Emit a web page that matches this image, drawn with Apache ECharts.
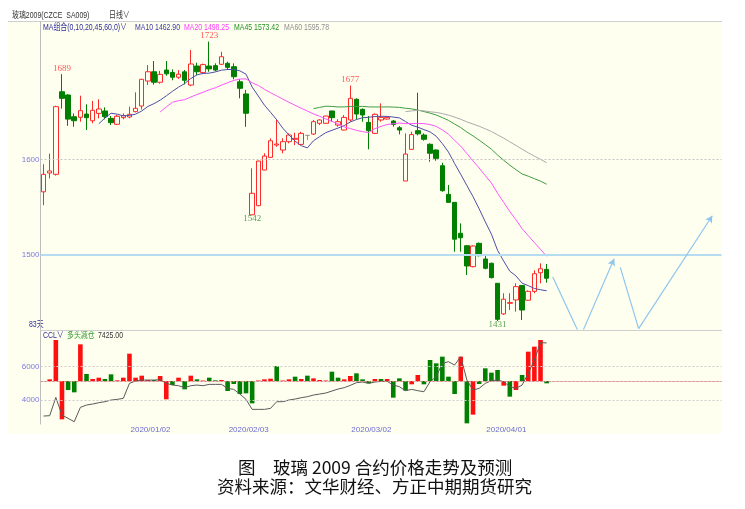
<!DOCTYPE html>
<html><head><meta charset="utf-8">
<script src="https://cdn.jsdelivr.net/npm/echarts@6/dist/echarts.min.js"></script>
<style>html,body{margin:0;padding:0;background:#fff}#c{width:745px;height:509px}</style>
</head><body><div id="c"></div>
<script>
const dates = [
'2019/12/06','2019/12/09','2019/12/10','2019/12/11','2019/12/12','2019/12/13','2019/12/16','2019/12/17','2019/12/18','2019/12/19','2019/12/20','2019/12/23','2019/12/24','2019/12/25','2019/12/26','2019/12/27','2019/12/30','2019/12/31',
'2020/01/02','2020/01/03','2020/01/06','2020/01/07','2020/01/08','2020/01/09','2020/01/10','2020/01/13','2020/01/14','2020/01/15','2020/01/16','2020/01/17','2020/01/20','2020/01/21','2020/01/22','2020/01/23',
'2020/02/03','2020/02/04','2020/02/05','2020/02/06','2020/02/07','2020/02/10','2020/02/11','2020/02/12','2020/02/13','2020/02/14','2020/02/17','2020/02/18','2020/02/19','2020/02/20','2020/02/21','2020/02/24','2020/02/25','2020/02/26','2020/02/27','2020/02/28',
'2020/03/02','2020/03/03','2020/03/04','2020/03/05','2020/03/06','2020/03/09','2020/03/10','2020/03/11','2020/03/12','2020/03/13','2020/03/16','2020/03/17','2020/03/18','2020/03/19','2020/03/20','2020/03/23','2020/03/24','2020/03/25','2020/03/26','2020/03/27','2020/03/30','2020/03/31',
'2020/04/01','2020/04/02','2020/04/03','2020/04/07','2020/04/08','2020/04/09','2020/04/10'];
const futureSlots = 28;

const opens  = [1566,1585.7,1584.3,1670.6,1667.2,1644.5,1643.9,1647.3,1640.3,1648,1650.5,1642.8,1636.6,1643.5,1644.2,1649.8,1655.7,1681.8,1691.5,1680.5,1693.3,1690.7,1685.8,1691.4,1677.6,1697.5,1690.6,1697.5,1697.9,1699.3,1700.3,1696.8,1681,1668.3,1542,1551.5,1588.8,1602,1614.9,1609.7,1618.4,1620.9,1615.6,1625,1626.4,1637.6,1637.6,1650.5,1635.8,1630.6,1641.1,1662.7,1652.2,1638.6,1627.1,1641.1,1642.1,1640,1633,1577.3,1610.4,1629.9,1625.4,1615.7,1609.7,1593.3,1563.4,1555,1522.7,1509.7,1487.8,1512.2,1495.8,1491.3,1470.4,1438.4,1449.5,1453,1468.2,1452.7,1462,1481.4,1485];
const closes = [1584.3,1587.8,1655,1663.7,1642,1640.3,1650.8,1643.5,1651.2,1652.6,1644.5,1638.3,1645,1645.6,1647,1653.3,1683.6,1691.5,1680.5,1688.8,1689.3,1685.8,1688.9,1682.6,1699.6,1691.5,1699,1694.5,1693.3,1707.2,1696.1,1686.3,1674.2,1648.1,1564.5,1598.2,1603.4,1619.4,1616,1618.4,1625.4,1621.9,1627.1,1625,1639.3,1641.1,1645.2,1643.5,1639.3,1643.8,1663.7,1647.3,1646.3,1629.9,1647,1643.8,1643.8,1636.5,1630.6,1605.5,1625.8,1626.6,1620.9,1606.3,1601,1567.2,1555,1516.5,1518,1488.5,1509.4,1499.3,1486.1,1476.3,1432.8,1453.8,1450.2,1466.9,1442.5,1462,1480.4,1485.6,1475.7];
const lows   = [1552,1580,1583,1653,1635,1634,1639.3,1630.6,1637.6,1642.8,1641.8,1635.8,1635.8,1641.8,1642.8,1649,1652,1677.6,1678,1679,1687.4,1682.6,1684,1678.4,1676.5,1688,1689,1691.5,1692,1698.6,1693.3,1683.6,1663.7,1634,1542,1551,1588.5,1601.5,1613,1606.3,1616.7,1614.9,1614.9,1620,1625.4,1635.8,1637,1639.3,1634.1,1630.3,1639.3,1641.8,1639.3,1610.4,1626.4,1639.3,1641.5,1634.1,1626.1,1577.3,1609.7,1625,1619.5,1597.5,1598.5,1566.1,1555,1503.4,1503.4,1479.1,1487,1498.5,1485,1475.5,1431,1437.3,1442.5,1440.8,1432,1452,1460,1470.4,1471];
const highs  = [1594.8,1605.9,1656,1689,1668,1648,1666.5,1657.5,1661,1662.7,1654.3,1645.2,1646.6,1648,1655,1670,1684,1698.5,1702.7,1692.5,1702.7,1694,1693.3,1693.3,1714.2,1701,1700,1723,1700.3,1712.4,1702,1700.3,1683.6,1672.5,1590.6,1598.5,1606.3,1621.9,1641.8,1621.9,1627.1,1627.8,1628.8,1625,1641.1,1641.8,1645.5,1650.8,1641.8,1646.3,1677,1663.7,1653.2,1645.2,1648,1658.5,1645,1641.1,1634.8,1627.1,1628.8,1669.6,1627.1,1616.7,1610.4,1596.4,1573.1,1555,1533.1,1510,1510,1513,1499.3,1492,1470.4,1460,1460,1470.4,1468.2,1463,1484,1491.3,1490.6];

const oiChange = ['-',100,2460,-2300,-540,-680,2200,420,120,200,120,400,40,200,1640,200,320,60,60,300,-1100,-240,200,-500,320,100,30,200,40,60,-600,-180,-780,-740,-1340,30,100,140,900,30,100,260,120,320,160,60,30,560,200,100,300,460,100,-140,120,120,120,-1000,160,-580,-200,360,-200,1260,1060,1460,260,-780,1460,-2540,-2020,-180,760,500,660,-280,-940,-540,360,1760,2060,2460,-140];
const openInterest = [3040,3060,4160,3100,2900,2700,3560,3700,3760,3840,3900,4000,4040,4100,5000,5140,5200,5200,5200,5220,5000,4900,4860,4740,4860,4900,4860,4940,4940,4940,4700,4640,4360,4040,3440,3440,3440,3500,3900,3900,4000,4060,4140,4200,4300,4360,4420,4540,4660,4740,4880,5040,5080,5000,5080,5120,5120,4900,4800,4560,4640,4560,4500,5100,5400,6200,6300,6100,6600,5200,4600,4700,5000,5160,5200,5100,4800,4700,4900,5600,6400,7440,7425];

const priceTicks = [1500, 1600];
const oiTicks = [4000, 6000];
const supportLevel = 1500;
const maPeriods = [10, 20, 45, 60];
const maColors = ['#4d4da8', '#ff55ff', '#3f9d3f', '#ababab'];
const peakIdx = [3, 27, 50];
const troughIdx = [34, 74];
const forecastLegs = [
  [[83, 1477], [87, 1422], false],
  [[88, 1422], [93, 1496], true],
  [[94, 1487], [97, 1423], false],
  [[97, 1423], [109, 1541], true]
];
const maLegend = ['MA10 1462.90', 'MA20 1498.25', 'MA45 1573.42', 'MA60 1595.78'];

const cats = dates.concat(Array.from({length: futureSlots}, (_, i) => 'F' + (i + 1)));
const candles = opens.map((o, i) => [o, closes[i], lows[i], highs[i]]);
function movingAvg(n) {
  return closes.map((c, i) => {
    if (i < n - 1) return '-';
    let s = 0; for (let j = i - n + 1; j <= i; j++) s += closes[j];
    return +(s / n).toFixed(2);
  });
}
const UP = '#ff2a2a', DOWN = '#007f00', BG = '#fffff0';
const CJK = '"Liberation Sans", "Noto Sans CJK SC", sans-serif';
const SX = 0.77;
function smallText(x, y, text, fill) {
  return {type: 'text', x: x, y: y, scaleX: SX, style: {text: text, font: '9px ' + CJK, fill: fill, verticalAlign: 'middle'}};
}

const chart = echarts.init(document.getElementById('c'), null, {renderer: 'canvas'});
const gridL = 40.5, slot = 6.135, gridW = slot * cats.length;
const gridR = 745 - gridL - gridW;

const option = {
  animation: false,
  backgroundColor: '#ffffff',
  graphic: [
    {type: 'rect', z: -10, shape: {x: 8, y: 8, width: 714, height: 426}, style: {fill: BG}},
    {type: 'rect', z: -9, shape: {x: 8, y: 8, width: 714, height: 14}, style: {fill: '#ffffff'}},
    {type: 'line', shape: {x1: 8, y1: 21.5, x2: 722, y2: 21.5}, style: {stroke: '#cfcfcf', lineWidth: 1}},
    smallText(12, 15.5, '玻璃2009(CZCE  SA009)', '#333333'),
    smallText(109, 15.5, '日线∨', '#333333'),
    smallText(43, 28, 'MA组合(0,10,20,45,60,0)∨', '#2b2b9c'),
    smallText(135, 28, maLegend[0], '#3b3ba6'),
    smallText(184, 28, maLegend[1], '#ff3cff'),
    smallText(234, 28, maLegend[2], '#239023'),
    smallText(284, 28, maLegend[3], '#8f8f8f'),
    smallText(29, 325, '83天', '#2b2b9c'),
    smallText(43, 335.5, 'CCL∨', '#2b2b9c'),
    smallText(67, 335.5, '多头减仓', '#2f9a2f'),
    smallText(98, 335.5, '7425.00', '#333333'),
    {type: 'text', left: 238, top: 459, style: {text: '图', font: '17.5px "Noto Sans CJK SC"', fill: '#111'}},
    {type: 'text', left: 273, top: 459, style: {text: '玻璃 2009 合约价格走势及预测', font: '17.5px "Noto Sans CJK SC"', fill: '#111'}},
    {type: 'text', left: 217, top: 478, style: {text: '资料来源：文华财经、方正中期期货研究', font: '17.5px "Noto Sans CJK SC"', fill: '#111'}}
  ],
  grid: [
    {left: gridL, right: gridR, top: 22, height: 308},
    {left: gridL, right: gridR, top: 330, height: 94}
  ],
  xAxis: [
    {type: 'category', gridIndex: 0, data: cats, boundaryGap: true,
     axisLine: {show: true, lineStyle: {color: '#cfcfcf'}}, axisTick: {show: false}, axisLabel: {show: false}, splitLine: {show: false}},
    {type: 'category', gridIndex: 1, data: cats, boundaryGap: true,
     axisLine: {show: true, lineStyle: {color: '#cfcfcf'}}, axisTick: {show: false}, splitLine: {show: false},
     axisLabel: {show: true, color: '#6a6ad0', fontSize: 8, margin: 2, padding: [0, 7, 0, 0],
       interval: (i) => i > 0 && i < dates.length && dates[i].slice(0, 7) !== dates[i - 1].slice(0, 7)}}
  ],
  yAxis: [
    {type: 'value', gridIndex: 0, min: 1421.6, max: 1743.5, position: 'left',
     axisLine: {show: true, lineStyle: {color: '#bdbdbd'}}, axisTick: {show: false}, splitLine: {show: false},
     axisLabel: {show: true, customValues: priceTicks, color: '#7a7ae0', fontSize: 8, margin: 1, formatter: v => String(v)}},
    {type: 'value', gridIndex: 1, min: 2562, max: 8202, position: 'left',
     axisLine: {show: true, lineStyle: {color: '#bdbdbd'}}, axisTick: {show: false}, splitLine: {show: false},
     axisLabel: {show: true, customValues: oiTicks, color: '#7a7ae0', fontSize: 8, margin: 1, formatter: v => String(v)}},
    {type: 'value', gridIndex: 1, min: -2580, max: 3060, show: false, splitLine: {show: false}}
  ],
  series: [
    {type: 'candlestick', name: 'K', xAxisIndex: 0, yAxisIndex: 0, data: candles, barWidth: 5,
     itemStyle: {color: BG, color0: DOWN, borderColor: UP, borderColor0: DOWN, borderColorDoji: '#999999', borderWidth: 1},
     markLine: {silent: true, symbol: 'none', label: {show: false}, animation: false,
       data: [
         {yAxis: priceTicks[1], lineStyle: {color: '#c4c4c4', type: [2, 2], width: 1}},
         {yAxis: supportLevel, lineStyle: {color: '#b6dcf2', type: 'solid', width: 2}}
       ]}},
    ...maPeriods.map((n, i) => ({
      type: 'line', name: 'MA' + n, xAxisIndex: 0, yAxisIndex: 0, data: movingAvg(n),
      showSymbol: false, symbol: 'none', smooth: false, lineStyle: {color: maColors[i], width: 1}, z: 3
    })),
    {type: 'scatter', name: 'peaks', xAxisIndex: 0, yAxisIndex: 0, symbolSize: 1, itemStyle: {color: 'rgba(0,0,0,0)'},
     data: peakIdx.map(k => [k, highs[k]]),
     label: {show: true, position: 'top', distance: 1, color: '#ff3030', fontSize: 9, fontFamily: 'Liberation Serif',
       formatter: p => Math.round(p.value[1])}},
    {type: 'scatter', name: 'troughs', xAxisIndex: 0, yAxisIndex: 0, symbolSize: 1, itemStyle: {color: 'rgba(0,0,0,0)'},
     data: troughIdx.map(k => [k, lows[k]]),
     label: {show: true, position: 'bottom', distance: -1, color: '#2c8a2c', fontSize: 9, fontFamily: 'Liberation Serif',
       formatter: p => Math.round(p.value[1])}},
    {type: 'line', name: 'forecast', xAxisIndex: 0, yAxisIndex: 0, data: [], showSymbol: false,
     markLine: {silent: true, animation: false, label: {show: false},
       lineStyle: {color: '#8ec5ee', width: 1.2, type: 'solid'},
       data: forecastLegs.map(([a, b, arrow]) => [
         {coord: a, symbol: 'none'},
         {coord: b, symbol: arrow ? 'arrow' : 'none', symbolSize: [6, 7]}
       ])}},
    {type: 'bar', name: 'OIchg', xAxisIndex: 1, yAxisIndex: 2, data: oiChange, barWidth: 4.6,
     itemStyle: {color: p => (p.dataIndex > 0 && closes[p.dataIndex] >= closes[p.dataIndex - 1]) ? '#ff1010' : '#008000'},
     markLine: {silent: true, symbol: 'none', label: {show: false}, animation: false,
       data: [{yAxis: 0, lineStyle: {color: '#f08080', type: [2, 2], width: 1}}]}},
    {type: 'line', name: 'OI', xAxisIndex: 1, yAxisIndex: 1, data: openInterest, showSymbol: false, symbol: 'none',
     lineStyle: {color: '#5a5a5a', width: 1}, z: 4,
     markLine: {silent: true, symbol: 'none', label: {show: false}, animation: false,
       data: oiTicks.map(v => ({yAxis: v, lineStyle: {color: '#cccccc', type: [2, 2], width: 1}}))}}
  ]
};
chart.setOption(option);
</script>
</body></html>
